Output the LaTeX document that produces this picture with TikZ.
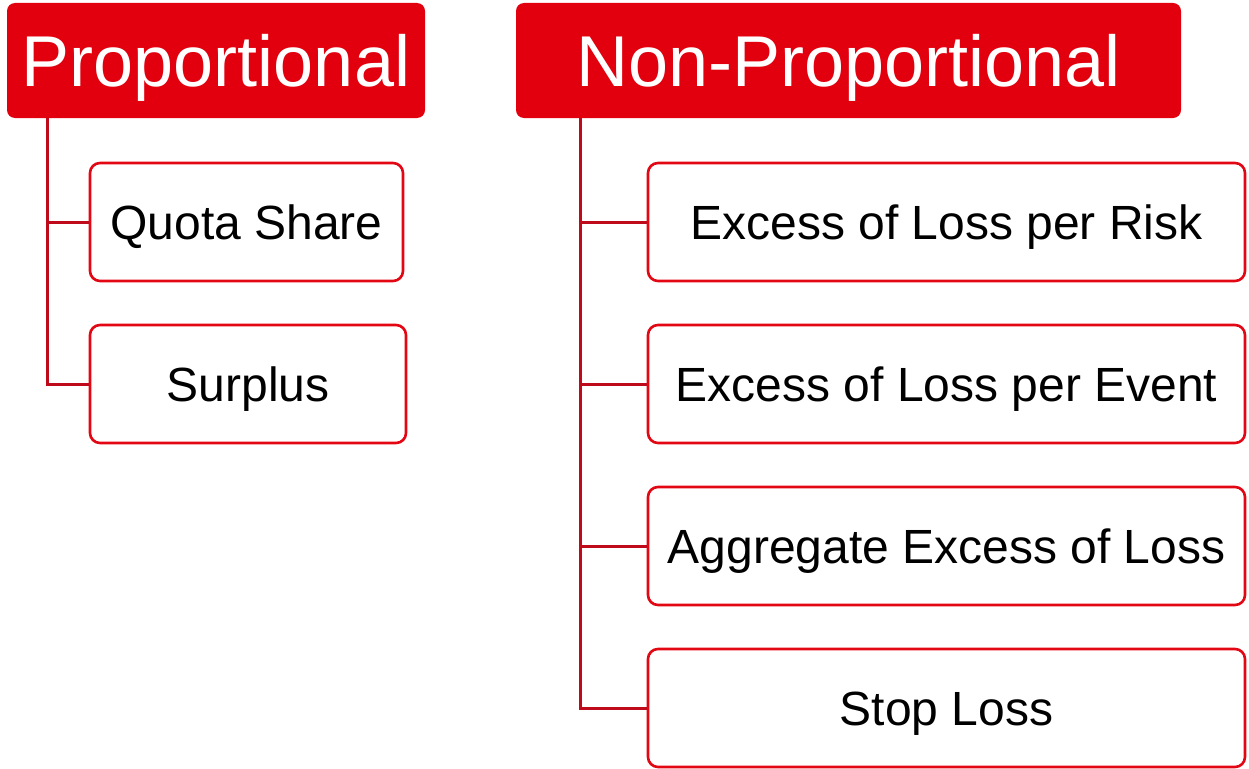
\documentclass[tikz,border=0pt]{standalone}
\usepackage{fontspec}
\setmainfont{Liberation Sans}
\usetikzlibrary{positioning}
\definecolor{hdrred}{HTML}{E2000F}
\definecolor{boxred}{HTML}{E30613}
\definecolor{linkred}{HTML}{BE0A1A}

\begin{document}
\begin{tikzpicture}[
            x=1pt, y=-1pt,
            header/.style={fill=hdrred, draw=none, rounded corners=8pt, text=white,
                font=\fontsize{72}{80}\selectfont, text height=51pt, text depth=0pt,
                minimum height=115pt, inner sep=0pt},
            type box/.style={draw=boxred, line width=2.6pt, fill=white, rounded corners=10pt,
                font=\fontsize{48}{56}\selectfont, text=black, text height=34pt, text depth=0pt,
                minimum height=118pt, inner sep=0pt},
            link/.style={draw=linkred, line width=3pt},
        ]

        % Page frame
        \useasboundingbox (0,0) rectangle (1249,768);

        % Headers
        \node[header, minimum width=418pt] (prop) at (216,60.5) {Proportional};
        \node[header, minimum width=665pt] (nonprop) at (848.5,60.5) {Non-Proportional};

        % Proportional treaties
        \node[type box, minimum width=313pt] (quota) at (246.5,222) {Quota Share};
        \node[type box, minimum width=316pt] (surplus) at (248,384) {Surplus};

        % Non-proportional treaties
        \node[type box, minimum width=597pt] (xlrisk) at (946.5,222) {Excess of Loss per Risk};
        \node[type box, minimum width=597pt] (xlevent) at (946.5,384) {Excess of Loss per Event};
        \node[type box, minimum width=597pt] (aggxl) at (946.5,546) {Aggregate Excess of Loss};
        \node[type box, minimum width=597pt] (stoploss) at (946.5,708) {Stop Loss};

        % Tree lines
        \foreach \t in {quota, surplus}
            \draw[link] ([xshift=41pt]prop.south west) |- (\t.west);
        \foreach \t in {xlrisk, xlevent, aggxl, stoploss}
            \draw[link] ([xshift=65pt]nonprop.south west) |- (\t.west);

\end{tikzpicture}
\end{document}
